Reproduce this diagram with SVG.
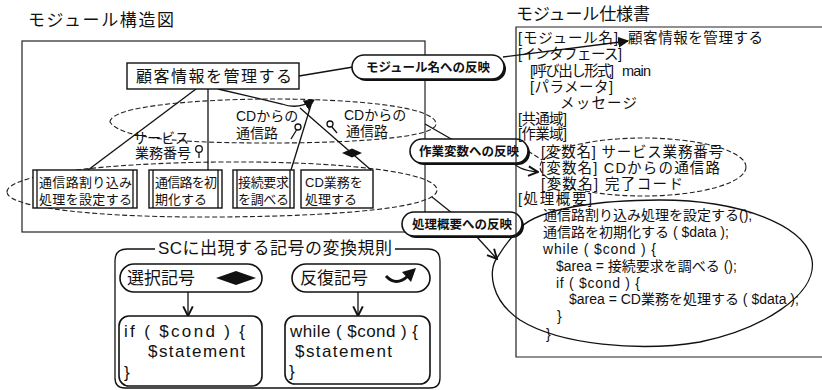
<svg xmlns="http://www.w3.org/2000/svg" width="822" height="390" viewBox="0 0 822 390">
<style>
text{font-family:"Liberation Sans","Noto Sans CJK JP",sans-serif;fill:#111}
.ttl{font-size:17px}
.t14{font-size:14px}
.t13{font-size:13px}
.sp{font-size:14.5px}
.cd{font-size:14px}
.box{fill:#fff;stroke:#111;stroke-width:1.4}
.frame{fill:none;stroke:#222;stroke-width:1.2}
.ln{fill:none;stroke:#111;stroke-width:1.3}
.dash{fill:none;stroke:#222;stroke-width:1.1;stroke-dasharray:5 2.5}
.pill{fill:#fff;stroke:#111;stroke-width:1.6}
.shadow{fill:#111}
.pt{font-size:12.5px;text-anchor:middle;font-weight:bold}
.lg{font-size:17px}
</style>
<defs>
<marker id="af" viewBox="0 0 10 10" refX="9" refY="5" markerWidth="11" markerHeight="11" markerUnits="userSpaceOnUse" orient="auto"><path d="M0,0 L10,5 L0,10 z" fill="#111"/></marker>
<marker id="av" viewBox="0 0 10 10" refX="9" refY="5" markerWidth="12" markerHeight="12" markerUnits="userSpaceOnUse" orient="auto"><path d="M1,1 L9,5 L1,9" fill="none" stroke="#111" stroke-width="1.6"/></marker>
</defs>

<rect width="822" height="390" fill="#fff"/>

<g id="title-left"><text class="ttl" x="28" y="26" textLength="146">モジュール構造図</text></g>
<g id="title-right"><text class="ttl" x="516" y="20" textLength="134">モジュール仕様書</text></g>

<g id="structure-frame"><rect class="frame" x="22" y="41" width="403" height="191"/></g>

<g id="ellipses">
<path class="dash" d="M110,122 C110,106 200,99 273,99 C350,99 436,106 436,124 C436,138 350,143 273,143 C200,143 122,141 110,122 Z"/>
<path class="dash" d="M7,192 C7,175 100,163 222,162 C340,161 437,172 437,190 C437,208 340,216 222,217 C100,218 7,208 7,192 Z"/>
<ellipse class="dash" cx="643" cy="167" rx="103" ry="29"/>
<path class="ln" d="M520,228 C540,208 600,200 660,200 C740,200 805,225 812,260 C818,295 760,330 700,342 C640,352 560,345 520,320 C490,300 488,270 497,258 C505,245 512,236 520,228 Z"/>
</g>

<g id="connectors">
<line class="ln" x1="299" y1="76" x2="353" y2="67"/>
<path class="ln" d="M503,57 L628,41" marker-end="url(#af)"/>
<line class="ln" x1="196" y1="89" x2="88" y2="170"/>
<line class="ln" x1="208" y1="89" x2="208" y2="170"/>
<path class="ln" d="M218,89 L282,104 Q298,110 314,100" marker-end="url(#af)"/>
<line class="ln" x1="311" y1="105" x2="291" y2="170"/>
<line class="ln" x1="300" y1="108" x2="371" y2="170"/>
<polygon points="342,153 352,148.5 362,153 352,157.5" fill="#111"/>
<line class="ln" x1="425" y1="124" x2="453" y2="140"/>
<line class="ln" x1="432" y1="197" x2="452" y2="213"/>
<path class="ln" d="M512,160 Q516,170 538,172" marker-end="url(#av)"/>
<line class="dash" x1="528" y1="151" x2="542" y2="160"/>
<line class="ln" x1="476" y1="236" x2="497" y2="259" marker-end="url(#av)"/>
</g>

<g id="couples" class="ln">
<circle cx="199" cy="149" r="3.3"/><line x1="199" y1="152.3" x2="199" y2="158"/>
<circle cx="298" cy="127" r="3"/><line x1="296.5" y1="130" x2="291" y2="139"/>
<circle cx="330" cy="124" r="3"/><line x1="332" y1="127" x2="337" y2="133"/>
</g>

<g id="data-labels" class="t14">
<text x="133" y="143">サービス</text>
<text x="135" y="158">業務番号</text>
<text x="236" y="121">CDからの</text>
<text x="236" y="138">通信路</text>
<text x="344" y="120">CDからの</text>
<text x="346" y="136">通信路</text>
</g>

<g id="root">
<rect class="box" x="127" y="63" width="172" height="26"/>
<text x="136" y="82" font-size="16" textLength="156">顧客情報を管理する</text>
</g>

<g id="m1">
<rect class="box" x="33" y="170" width="104" height="38"/>
<line class="ln" x1="37" y1="170" x2="37" y2="208"/><line class="ln" x1="133" y1="170" x2="133" y2="208"/>
<text class="t13" x="39" y="187" textLength="93">通信路割り込み</text>
<text class="t13" x="39" y="204" textLength="93">処理を設定する</text>
</g>
<g id="m2">
<rect class="box" x="149" y="170" width="73" height="38"/>
<line class="ln" x1="153" y1="170" x2="153" y2="208"/><line class="ln" x1="218" y1="170" x2="218" y2="208"/>
<text class="t13" x="155" y="187" textLength="62">通信路を初</text>
<text class="t13" x="155" y="204">期化する</text>
</g>
<g id="m3">
<rect class="box" x="233" y="170" width="61" height="38"/>
<line class="ln" x1="237" y1="170" x2="237" y2="208"/><line class="ln" x1="290" y1="170" x2="290" y2="208"/>
<text class="t13" x="238" y="187" textLength="51">接続要求</text>
<text class="t13" x="238" y="204" textLength="51">を調べる</text>
</g>
<g id="m4">
<rect class="box" x="301" y="170" width="72" height="38"/>
<text class="t13" x="305" y="187">CD業務を</text>
<text class="t13" x="305" y="204">処理する</text>
</g>

<g id="pill-modname">
<rect class="shadow" x="354" y="57" width="152" height="24" rx="12"/>
<rect class="pill" x="352" y="55" width="152" height="24" rx="12"/>
<text class="pt" x="428" y="72">モジュール名への反映</text>
</g>
<g id="pill-workvar">
<rect class="shadow" x="412" y="141" width="118" height="24" rx="12"/>
<rect class="pill" x="410" y="139" width="118" height="24" rx="12"/>
<text class="pt" x="469" y="156">作業変数への反映</text>
</g>
<g id="pill-summary">
<rect class="shadow" x="404" y="214" width="120" height="24" rx="12"/>
<rect class="pill" x="402" y="212" width="120" height="24" rx="12"/>
<text class="pt" x="462" y="229">処理概要への反映</text>
</g>

<g id="spec">
<path class="frame" d="M830,27 L516,27 L516,357 L830,357"/>
<g class="sp">
<text x="518" y="43" textLength="100">[モジュール名]</text><text x="628" y="43" textLength="135">顧客情報を管理する</text>
<text x="518" y="59" textLength="104">[インタフェース]</text>
<text x="530" y="76" textLength="84">[呼び出し形式]</text><text x="622" y="76" textLength="29">main</text>
<text x="530" y="92" textLength="83">[パラメータ]</text>
<text x="560" y="108" textLength="77">メッセージ</text>
<text x="518" y="124" textLength="49">[共通域]</text>
<text x="518" y="139" textLength="49">[作業域]</text>
<text x="541" y="157" textLength="182">[変数名]  サービス業務番号</text>
<text x="541" y="173" textLength="179">[変数名]  CDからの通信路</text>
<text x="541" y="189" textLength="142">[変数名]  完了コード</text>
<text x="518" y="204" textLength="74">[処理概要]</text>
</g>
<g class="cd">
<text x="543" y="220">通信路割り込み処理を設定する();</text>
<text x="543" y="237">通信路を初期化する ( $data );</text>
<text x="543" y="254" textLength="113">while ( $cond )  {</text>
<text x="556" y="271">$area = 接続要求を調べる ();</text>
<text x="556" y="288" textLength="84">if ( $cond )  {</text>
<text x="569" y="304">$area = CD業務を処理する ( $data );</text>
<text x="557" y="321">}</text>
<text x="546" y="339">}</text>
</g>
</g>

<g id="legend">
<path class="ln" d="M155,249 L127,249 Q115,249 115,261 L115,378 Q115,388 125,388 L430,388 Q440,388 440,378 L440,261 Q440,249 428,249 L395,249"/>
<text x="158" y="254" font-size="17" textLength="234">SCに出現する記号の変換規則</text>
</g>
<g id="sel-pill">
<rect class="pill" x="120" y="264" width="142" height="28" rx="14"/>
<text x="127" y="284" font-size="17">選択記号</text>
<polygon points="216,278 236,271 256,278 236,285" fill="#111"/>
</g>
<g id="rep-pill">
<rect class="pill" x="292" y="264" width="138" height="28" rx="14"/>
<text x="300" y="284" font-size="17">反復記号</text>
<path d="M386,276 Q396,287 408,276" fill="none" stroke="#111" stroke-width="3"/>
<polygon points="402,272 416,268 411,282" fill="#111"/>
</g>
<g id="legend-arrows">
<line class="ln" x1="188" y1="292" x2="188" y2="316" marker-end="url(#av)"/>
<line class="ln" x1="358" y1="292" x2="358" y2="316" marker-end="url(#av)"/>
</g>
<g id="if-box">
<rect class="pill" x="119" y="316" width="143" height="70" rx="10"/>
<text class="lg" x="124" y="337" textLength="121">if  ( $cond  )  {</text>
<text class="lg" x="148" y="357" textLength="97">$statement</text>
<text class="lg" x="124" y="378">}</text>
</g>
<g id="while-box">
<rect class="pill" x="285" y="316" width="145" height="68" rx="10"/>
<text class="lg" x="290" y="337" textLength="128">while ( $cond ) {</text>
<text class="lg" x="295" y="357" textLength="97">$statement</text>
<text class="lg" x="289" y="377">}</text>
</g>
</svg>
